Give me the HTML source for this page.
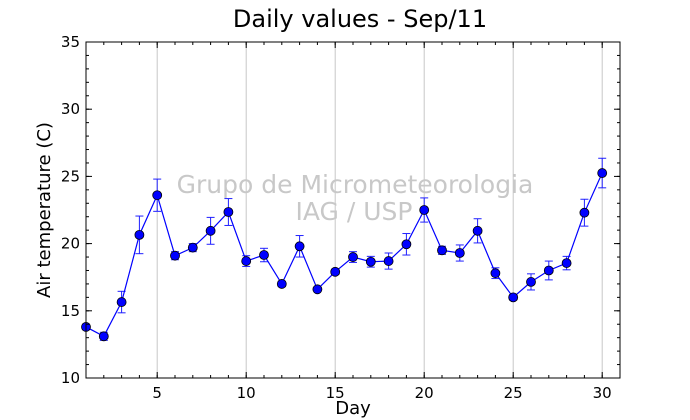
<!DOCTYPE html>
<html><head><meta charset="utf-8"><style>
body{margin:0;background:#fff;}
svg{display:block;font-family:"DejaVu Sans","Liberation Sans",sans-serif;}
</style></head><body>
<svg id="c" width="690" height="420" viewBox="0 0 690 420">
<rect width="690" height="420" fill="#fff"/>
<text x="360" y="27" text-anchor="middle" font-size="24">Daily values - Sep/11</text>
<g id="grid"></g>
<text x="355" y="193" text-anchor="middle" font-size="25" fill="#c8c8c8">Grupo de Micrometeorologia</text>
<text x="354" y="220" text-anchor="middle" font-size="25" fill="#c8c8c8">IAG / USP</text>
<g id="series"></g>
<rect x="86" y="42" width="534" height="336" fill="none" stroke="#000" stroke-width="1"/>
<g id="ticks"></g>
<text x="353" y="414" text-anchor="middle" font-size="18">Day</text>
<text transform="translate(50,210) rotate(-90)" text-anchor="middle" font-size="18">Air temperature (C)</text>
</svg>
<script>
const days=[1,2,3,4,5,6,7,8,9,10,11,12,13,14,15,16,17,18,19,20,21,22,23,24,25,26,27,28,29,30];
const temps=[13.8,13.1,15.65,20.65,23.6,19.1,19.7,20.95,22.35,18.7,19.15,17.0,19.8,16.6,17.9,19.0,18.65,18.7,19.95,22.5,19.5,19.3,20.95,17.8,16.0,17.15,18.0,18.55,22.3,25.25];
const errs=[0.2,0.3,0.8,1.4,1.2,0.3,0.3,1.0,1.0,0.4,0.5,0.2,0.8,0.1,0.2,0.4,0.4,0.6,0.8,0.9,0.3,0.6,0.9,0.4,0.2,0.6,0.7,0.5,1.0,1.1];
const xTicks=[5,10,15,20,25,30];
const yTicks=[10,15,20,25,30,35];
const X0=86,X1=620,Y0=378,Y1=42,XMIN=1,XMAX=31,YMIN=10,YMAX=35;
const xs=d=>X0+(d-XMIN)/(XMAX-XMIN)*(X1-X0);
const ys=v=>Y0-(v-YMIN)/(YMAX-YMIN)*(Y0-Y1);
const NS="http://www.w3.org/2000/svg";
function mk(tag,attrs,parent){const e=document.createElementNS(NS,tag);for(const k in attrs)e.setAttribute(k,attrs[k]);parent.appendChild(e);return e;}
const grid=document.getElementById('grid'),ser=document.getElementById('series'),tk=document.getElementById('ticks');
xTicks.forEach(t=>{const l=mk('line',{x1:xs(t),x2:xs(t),y1:Y1,y2:Y0,stroke:'#c8c8c8','stroke-width':1},grid);

});
for(let d=XMIN+1;d<XMAX;d++){[[Y0,Y0-3],[Y1,Y1+3]].forEach(p=>{const l=mk('line',{x1:xs(d),x2:xs(d),y1:p[0],y2:p[1],stroke:'#000'},tk);

});}
for(let v=YMIN+1;v<YMAX;v++){[[X0,X0+3],[X1,X1-3]].forEach(p=>{const l=mk('line',{x1:p[0],x2:p[1],y1:ys(v),y2:ys(v),stroke:'#000'},tk);

});}
xTicks.forEach(t=>{[[Y0,Y0-6],[Y1,Y1+6]].forEach(p=>{const l=mk('line',{x1:xs(t),x2:xs(t),y1:p[0],y2:p[1],stroke:'#000'},tk);

});
const tx=mk('text',{x:xs(t),y:Y0+20,'text-anchor':'middle','font-size':15},tk);tx.textContent=t;

});
yTicks.forEach(t=>{[[X0,X0+6],[X1,X1-6]].forEach(p=>{const l=mk('line',{x1:p[0],x2:p[1],y1:ys(t),y2:ys(t),stroke:'#000'},tk);

});
const tx=mk('text',{x:X0-6,y:ys(t)+5,'text-anchor':'end','font-size':15},tk);tx.textContent=t;

});
days.forEach((d,i)=>{const x=xs(d),a=ys(temps[i]+errs[i]),b=ys(temps[i]-errs[i]);
const g=mk('g',{stroke:'#2020ff','stroke-width':1},ser);


mk('line',{x1:x,x2:x,y1:a,y2:b},g);mk('line',{x1:x-4,x2:x+4,y1:a,y2:a},g);mk('line',{x1:x-4,x2:x+4,y1:b,y2:b},g);});
const pl=mk('polyline',{points:days.map((d,i)=>xs(d)+','+ys(temps[i])).join(' '),fill:'none',stroke:'#0000ff','stroke-width':1.2},ser);


days.forEach((d,i)=>{const c=mk('circle',{cx:xs(d),cy:ys(temps[i]),r:4.5,fill:'#0000ff',stroke:'#000','stroke-width':0.8},ser);

});
</script>
</body></html>
